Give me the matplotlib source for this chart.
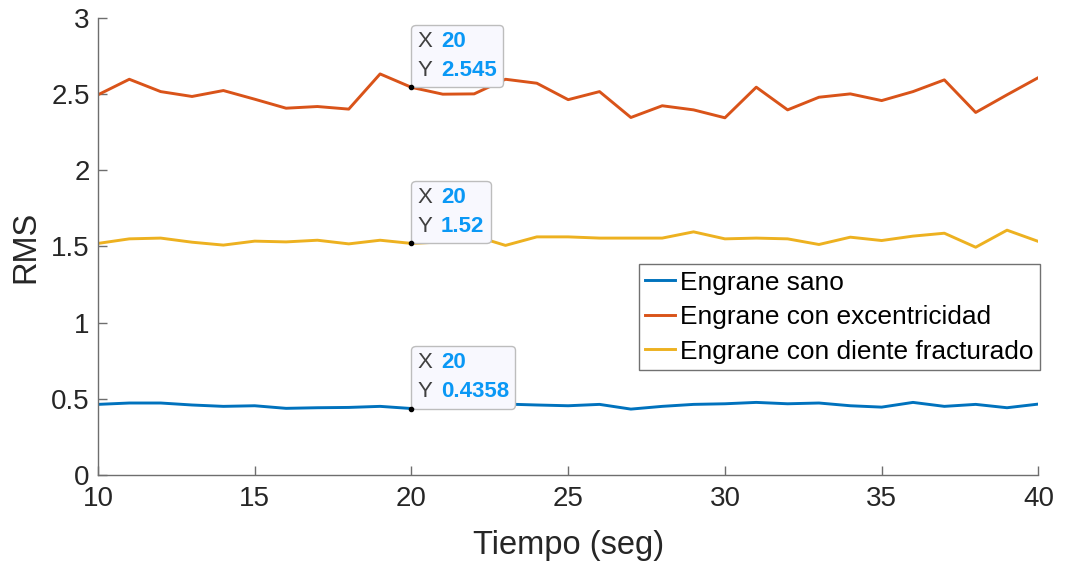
import numpy as np
import matplotlib
matplotlib.use("Agg")
import matplotlib.pyplot as plt
from matplotlib.offsetbox import TextArea, HPacker, VPacker, AnnotationBbox

plt.rcParams['font.family'] = ['Liberation Sans', 'DejaVu Sans']

# Time axis (seconds)
tiempo = np.arange(10, 41)

# RMS per gear condition
rms_sano = [0.463, 0.472, 0.472, 0.459, 0.450, 0.454, 0.437, 0.441, 0.443, 0.450,
            0.4358, 0.450, 0.445, 0.465, 0.459, 0.454, 0.463, 0.432, 0.450, 0.463,
            0.467, 0.476, 0.467, 0.472, 0.454, 0.445, 0.476, 0.450, 0.463, 0.441, 0.465]
rms_excentricidad = [2.496, 2.598, 2.517, 2.485, 2.524, 2.467, 2.408, 2.419, 2.402, 2.633,
                     2.545, 2.500, 2.502, 2.598, 2.572, 2.464, 2.517, 2.347, 2.424, 2.397,
                     2.345, 2.546, 2.397, 2.480, 2.502, 2.458, 2.517, 2.594, 2.380, 2.496, 2.609]
rms_fracturado = [1.520, 1.550, 1.555, 1.528, 1.509, 1.535, 1.530, 1.541, 1.517, 1.541,
                  1.52, 1.530, 1.570, 1.507, 1.563, 1.563, 1.555, 1.555, 1.555, 1.596,
                  1.550, 1.555, 1.550, 1.513, 1.561, 1.539, 1.568, 1.587, 1.495, 1.607, 1.533]

series = [
    ("Engrane sano", rms_sano, "#0072BD"),
    ("Engrane con excentricidad", rms_excentricidad, "#D95319"),
    ("Engrane con diente fracturado", rms_fracturado, "#EDB120"),
]

# Data tips shown at t = 20 s
tip_x = 20
tip_labels = {"Engrane sano": "0.4358",
              "Engrane con excentricidad": "2.545",
              "Engrane con diente fracturado": "1.52"}

fig = plt.figure(figsize=(10.65, 5.64), dpi=100)
ax = fig.add_axes([0.092, 0.158, 0.883, 0.81])

for name, vals, color in series:
    ax.plot(tiempo, vals, color=color, lw=2.1, label=name, zorder=2)

ax.set_xlim(10, 40)
ax.set_ylim(0, 3)
ax.set_xticks([10, 15, 20, 25, 30, 35, 40])
ax.set_yticks([0, 0.5, 1, 1.5, 2, 2.5, 3])
ax.set_yticklabels(["0", "0.5", "1", "1.5", "2", "2.5", "3"])

for side in ("top", "right"):
    ax.spines[side].set_visible(False)
for side in ("left", "bottom"):
    ax.spines[side].set_color("#6e6e6e")
    ax.spines[side].set_linewidth(1.0)

ax.tick_params(direction="in", length=6.5, width=1.0, color="#6e6e6e",
               labelsize=20, labelcolor="#262626", pad=6)
ax.tick_params(axis="x", pad=8)
ax.set_xlabel("Tiempo (seg)", fontsize=23.5, color="#262626", labelpad=13)
ax.set_ylabel("RMS", fontsize=23.5, color="#262626", labelpad=7)

leg = ax.legend(loc="upper left", bbox_to_anchor=(0.575, 0.461), fontsize=18.9,
                frameon=True, fancybox=False, handlelength=1.15, handletextpad=0.2,
                borderpad=0.24, labelspacing=0.4, borderaxespad=0)
leg.get_frame().set_edgecolor("#4d4d4d")
leg.get_frame().set_linewidth(1.0)

# Data tips
for name, vals, color in series:
    idx = list(tiempo).index(tip_x)
    yv = vals[idx]
    ax.plot([tip_x], [yv], marker="o", ms=3, color="black", zorder=6)
    lab_style = dict(fontsize=16, color="#404040")
    val_style = dict(fontsize=16, color="#0A98F5", fontweight="bold")
    row_x = HPacker(children=[TextArea("X", textprops=lab_style),
                              TextArea(f"{tip_x}", textprops=val_style)],
                    align="baseline", pad=0, sep=6)
    row_y = HPacker(children=[TextArea("Y", textprops=lab_style),
                              TextArea(tip_labels[name], textprops=val_style)],
                    align="baseline", pad=0, sep=6)
    box = VPacker(children=[row_x, row_y], align="left", pad=0, sep=6)
    ab = AnnotationBbox(box, (tip_x, yv), xycoords="data",
                        xybox=(4.5, 4.5), boxcoords="offset points",
                        box_alignment=(0, 0), frameon=True, pad=0.45,
                        bboxprops=dict(boxstyle="round,pad=0.45,rounding_size=0.3",
                                       facecolor="#F8F8FE", edgecolor="#BDBDBD",
                                       linewidth=1.0))
    ab.set_zorder(5)
    ax.add_artist(ab)

fig.savefig("out.png", dpi=100, facecolor="white")
